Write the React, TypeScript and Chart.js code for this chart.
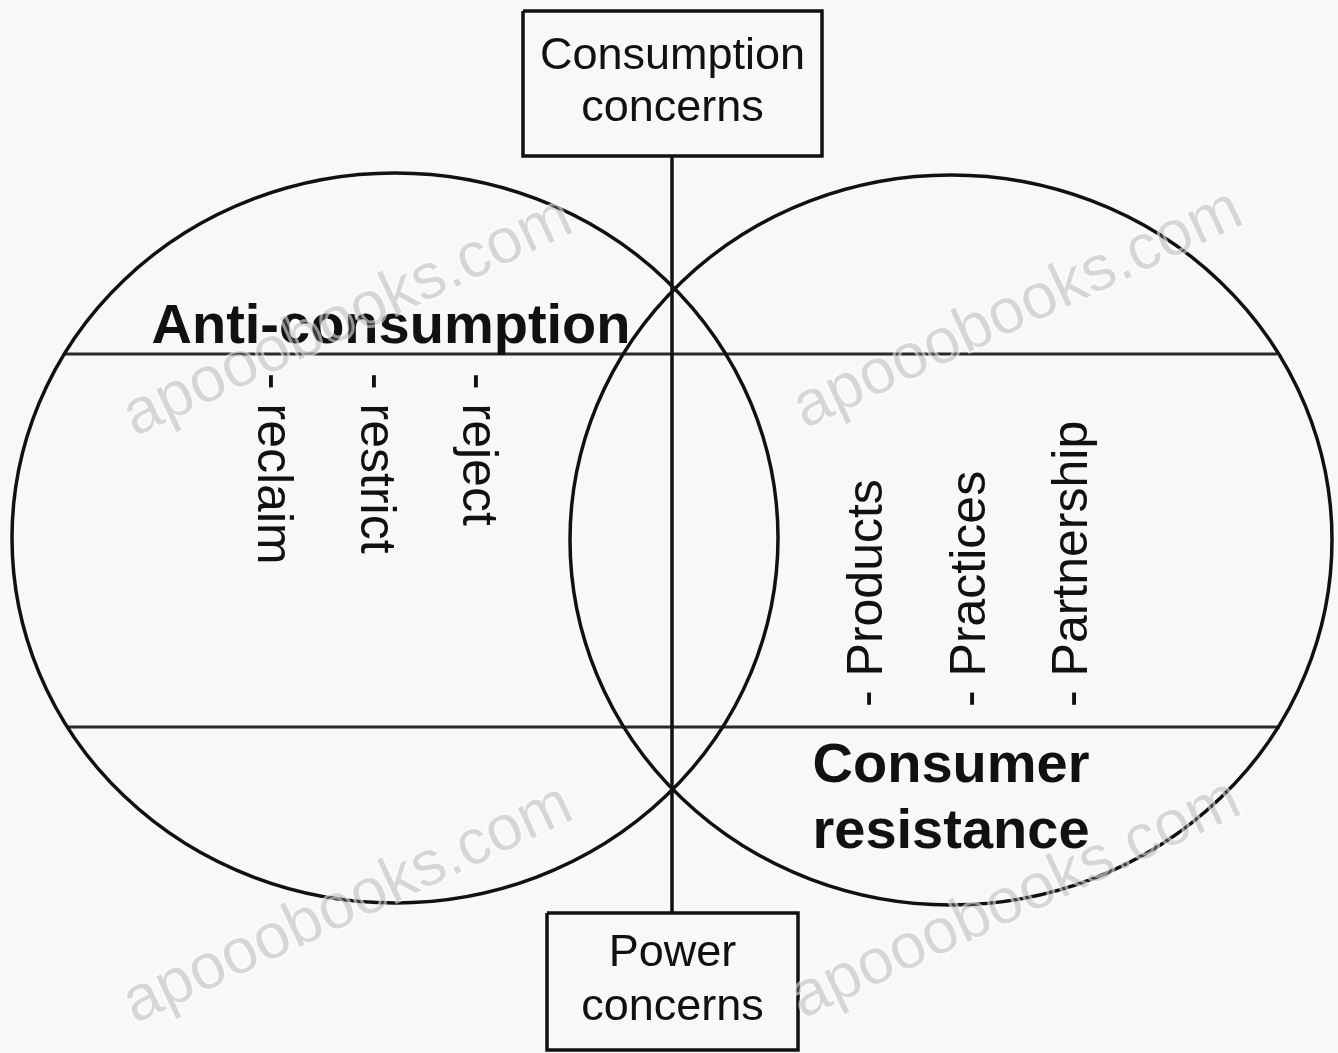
import React, { useEffect, useRef } from "react";
import { Chart, registerables } from "chart.js";

Chart.register(...registerables);

// ---- Diagram extent (data units) ----
const xRange = [0, 1338];
const yRange = [0, 1053];

// ---- Circles (ellipses) ----
const circleNames = ["Anti-consumption", "Consumer resistance"];
const circleCenterX = [395, 951];
const circleCenterY = [538, 540];
const circleRadiusX = [383, 381];
const circleRadiusY = [365, 365];

// ---- Connector / divider lines ----
const axisLineX = [672, 672];
const axisLineY = [156, 913];
const dividerY = [354, 727];
const dividerStartX = [64, 68];
const dividerEndX = [1277, 1280];

// ---- Boxes ----
const boxLeft = [523, 547];
const boxRight = [822, 798];
const boxTop = [11, 913];
const boxBottom = [156, 1050];
const boxLines = [
  ["Consumption", "concerns"],
  ["Power", "concerns"],
];
const boxLineBaselines = [
  [69, 121],
  [966, 1020],
];

// ---- Headings ----
const headingTexts = ["Anti-consumption", "Consumer", "resistance"];
const headingX = [391, 951, 951];
const headingBaselines = [343, 782, 848];

// ---- Vertical item lists ----
const leftItems = ["- reclaim", "- restrict", "- reject"];
const leftItemX = [272, 375, 477];
const leftItemStartY = 373;
const rightItems = ["- Products", "- Practices", "- Partnership"];
const rightItemX = [868, 971, 1073];
const rightItemStartY = 707;

// ---- Watermarks ----
const watermarkText = "apooobooks.com";
const watermarkX = [348, 1018, 348, 1016];
const watermarkY = [318, 310, 905, 900];

const FONT = '"Liberation Sans", Arial, Helvetica, sans-serif';
const INK = "#111111";

const seg = (x1: number, y1: number, x2: number, y2: number) => [
  { x: x1, y: y1 },
  { x: x2, y: y2 },
];
const rect = (l: number, t: number, r: number, b: number) => [
  { x: l, y: t },
  { x: r, y: t },
  { x: r, y: b },
  { x: l, y: b },
  { x: l, y: t },
];

const diagramPlugin = {
  id: "diagram",
  afterDatasetsDraw(chart: any) {
    const ctx = chart.ctx as CanvasRenderingContext2D;
    const xs = chart.scales.x;
    const ys = chart.scales.y;
    const px = (v: number) => xs.getPixelForValue(v);
    const py = (v: number) => ys.getPixelForValue(v);

    ctx.save();
    // ellipses
    ctx.strokeStyle = INK;
    ctx.lineWidth = 3.5;
    for (let i = 0; i < circleNames.length; i++) {
      const cx = px(circleCenterX[i]);
      const cy = py(circleCenterY[i]);
      const rx = Math.abs(px(circleCenterX[i] + circleRadiusX[i]) - cx);
      const ry = Math.abs(py(circleCenterY[i] + circleRadiusY[i]) - cy);
      ctx.beginPath();
      ctx.ellipse(cx, cy, rx, ry, 0, 0, Math.PI * 2);
      ctx.stroke();
    }

    // box labels
    ctx.fillStyle = INK;
    ctx.textAlign = "center";
    ctx.textBaseline = "alphabetic";
    ctx.font = `45px ${FONT}`;
    for (let b = 0; b < boxLines.length; b++) {
      const cx = px((boxLeft[b] + boxRight[b]) / 2);
      boxLines[b].forEach((t, j) => {
        ctx.fillText(t, cx, py(boxLineBaselines[b][j]));
      });
    }

    // headings
    ctx.font = `bold 56px ${FONT}`;
    headingTexts.forEach((t, i) => {
      ctx.fillText(t, px(headingX[i]), py(headingBaselines[i]));
    });

    // vertical items
    ctx.font = `50px ${FONT}`;
    ctx.textAlign = "left";
    ctx.textBaseline = "middle";
    leftItems.forEach((t, i) => {
      ctx.save();
      ctx.translate(px(leftItemX[i]), py(leftItemStartY));
      ctx.rotate(Math.PI / 2);
      ctx.fillText(t, 0, 0);
      ctx.restore();
    });
    rightItems.forEach((t, i) => {
      ctx.save();
      ctx.translate(px(rightItemX[i]), py(rightItemStartY));
      ctx.rotate(-Math.PI / 2);
      ctx.fillText(t, 0, 0);
      ctx.restore();
    });

    // watermarks
    ctx.font = `64px ${FONT}`;
    ctx.textAlign = "center";
    ctx.textBaseline = "middle";
    watermarkX.forEach((wx, i) => {
      ctx.save();
      ctx.translate(px(wx), py(watermarkY[i]));
      ctx.rotate((-25 * Math.PI) / 180);
      ctx.lineWidth = 3;
      ctx.strokeStyle = "rgba(255,255,255,0.55)";
      ctx.strokeText(watermarkText, 0, 0);
      ctx.fillStyle = "rgba(140,140,140,0.32)";
      ctx.fillText(watermarkText, 0, 0);
      ctx.restore();
    });
    ctx.restore();
  },
};

export default function App() {
  const canvasRef = useRef<HTMLCanvasElement | null>(null);

  useEffect(() => {
    if (!canvasRef.current) return;
    const lineStyle = {
      showLine: true,
      pointRadius: 0,
      borderWidth: 3.5,
      borderColor: INK,
      backgroundColor: INK,
      fill: false,
      tension: 0,
      clip: false as any,
    };
    const datasets: any[] = [
      { ...lineStyle, label: "axis", data: seg(axisLineX[0], axisLineY[0], axisLineX[1], axisLineY[1]) },
      ...dividerY.map((y, i) => ({
        ...lineStyle,
        borderWidth: 3,
        borderColor: "#2a2a2a",
        label: `divider${i}`,
        data: seg(dividerStartX[i], y, dividerEndX[i], y),
      })),
      ...boxLeft.map((l, i) => ({
        ...lineStyle,
        label: `box${i}`,
        data: rect(l, boxTop[i], boxRight[i], boxBottom[i]),
      })),
    ];
    const chart = new Chart(canvasRef.current, {
      type: "scatter",
      data: { datasets },
      options: {
        animation: false,
        responsive: false,
        maintainAspectRatio: false,
        events: [],
        layout: { padding: 0 },
        scales: {
          x: { type: "linear", min: xRange[0], max: xRange[1], display: false },
          y: { type: "linear", min: yRange[0], max: yRange[1], reverse: true, display: false },
        },
        plugins: { legend: { display: false }, tooltip: { enabled: false } },
      },
      plugins: [diagramPlugin],
    });
    return () => chart.destroy();
  }, []);

  return (
    <div
      style={{
        position: "absolute",
        left: 0,
        top: 0,
        width: 1338,
        height: 1053,
        background: "#f8f8f8",
      }}
    >
      <canvas ref={canvasRef} width={1338} height={1053} style={{ display: "block" }} />
    </div>
  );
}
